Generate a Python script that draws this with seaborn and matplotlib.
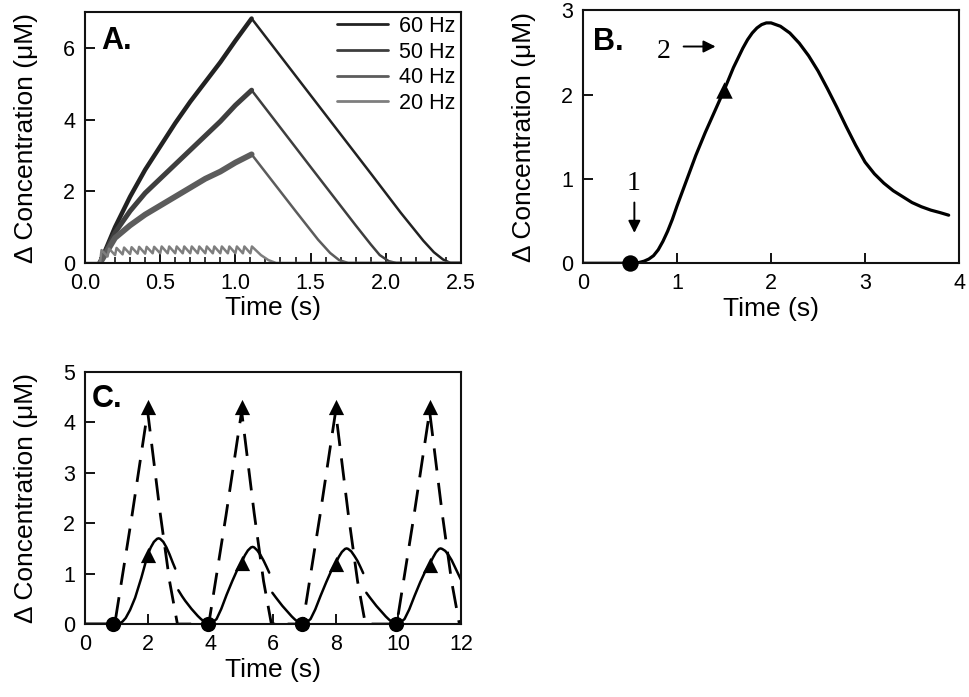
import numpy as np
import pandas as pd
import matplotlib
matplotlib.use('Agg')
import matplotlib.pyplot as plt
from matplotlib.ticker import MultipleLocator, FormatStrFormatter
import seaborn as sns

sns.set_style('ticks')
plt.rcParams['font.family'] = ['Liberation Sans', 'DejaVu Sans']
plt.rcParams['xtick.direction'] = 'in'
plt.rcParams['ytick.direction'] = 'in'
plt.rcParams['text.color'] = 'black'
plt.rcParams['axes.labelcolor'] = 'black'
plt.rcParams['xtick.labelcolor'] = 'black'
plt.rcParams['ytick.labelcolor'] = 'black'

# ---- panel A: stimulation trains ----
freqs = ['60 Hz', '50 Hz', '40 Hz', '20 Hz']
greys = ['#222222', '#3e3e3e', '#5c5c5c', '#7e7e7e']

# rising part (drawn as a ripple band) and falling part of each train
rise_t = [0.10, 0.2, 0.3, 0.4, 0.5, 0.6, 0.7, 0.8, 0.9, 1.0, 1.108]
rise_60 = [0.0, 1.0, 1.85, 2.6, 3.25, 3.9, 4.5, 5.05, 5.6, 6.2, 6.82]
rise_50 = [0.0, 0.85, 1.45, 1.95, 2.35, 2.75, 3.15, 3.55, 3.95, 4.4, 4.82]
rise_40 = [0.0, 0.7, 1.05, 1.35, 1.6, 1.85, 2.1, 2.35, 2.55, 2.8, 3.03]

fall_60_t = [1.108, 1.5, 1.9, 2.1, 2.25, 2.32, 2.38, 2.43, 2.5]
fall_60 = [6.82, 4.68, 2.5, 1.4, 0.62, 0.3, 0.1, 0.0, 0.0]
fall_50_t = [1.108, 1.5, 1.8, 1.9, 1.96, 2.02, 2.07, 2.5]
fall_50 = [4.82, 2.68, 1.05, 0.52, 0.22, 0.05, 0.0, 0.0]
fall_40_t = [1.108, 1.4, 1.55, 1.63, 1.69, 1.75, 1.8, 2.5]
fall_40 = [3.03, 1.45, 0.65, 0.28, 0.08, 0.0, 0.0, 0.0]

# 20 Hz train: individual teeth visible
t_20 = [0.0, 0.10, 0.11, 0.15, 0.16, 0.20, 0.21, 0.25, 0.26, 0.30, 0.31,
        0.35, 0.36, 0.40, 0.41, 0.45, 0.46, 0.50, 0.51, 0.55, 0.56, 0.60,
        0.61, 0.65, 0.66, 0.70, 0.71, 0.75, 0.76, 0.80, 0.81, 0.85, 0.86,
        0.90, 0.91, 0.95, 0.96, 1.00, 1.01, 1.05, 1.06, 1.10, 1.11, 1.17,
        1.22, 1.27, 2.5]
y_20 = [0.0, 0.0, 0.36, 0.18, 0.40, 0.22, 0.42, 0.24, 0.43, 0.25, 0.44,
        0.26, 0.45, 0.26, 0.45, 0.27, 0.45, 0.27, 0.46, 0.27, 0.46, 0.27,
        0.46, 0.27, 0.46, 0.27, 0.46, 0.27, 0.46, 0.27, 0.46, 0.27, 0.46,
        0.27, 0.46, 0.27, 0.46, 0.27, 0.46, 0.27, 0.46, 0.27, 0.46, 0.22,
        0.08, 0.0, 0.0]

# ---- panel B ----
t_B = [0.0, 0.5, 0.55, 0.6, 0.65, 0.7, 0.75, 0.8, 0.85, 0.9, 0.95, 1.0,
       1.1, 1.2, 1.3, 1.4, 1.5, 1.6, 1.7, 1.75, 1.8, 1.85, 1.9, 1.95, 2.0,
       2.1, 2.2, 2.3, 2.4, 2.5, 2.6, 2.7, 2.8, 2.9, 3.0, 3.1, 3.2, 3.3,
       3.4, 3.5, 3.6, 3.7, 3.8, 3.89]
y_B = [0.0, 0.0, 0.0, 0.01, 0.025, 0.05, 0.09, 0.16, 0.26, 0.38, 0.52,
       0.68, 0.98, 1.28, 1.55, 1.8, 2.05, 2.32, 2.55, 2.65, 2.73, 2.79,
       2.83, 2.85, 2.85, 2.81, 2.73, 2.61, 2.46, 2.28, 2.07, 1.85, 1.62,
       1.4, 1.2, 1.06, 0.95, 0.86, 0.79, 0.72, 0.67, 0.63, 0.6, 0.57]
dot_B = (0.5, 0.0)
tri_B = (1.5, 2.05)

# ---- panel C ----
t_dash = [0, 0.95, 1.5, 2.0, 2.4, 2.7, 2.95, 3.95, 4.5, 5.0, 5.4, 5.7, 5.95,
          6.95, 7.5, 8.0, 8.4, 8.7, 8.95, 9.95, 10.5, 11.0, 11.4, 11.7,
          11.95, 12.0]
y_dash = [0, 0, 2.15, 4.22, 2.2, 0.85, 0, 0, 2.15, 4.22, 2.2, 0.85, 0,
          0, 2.15, 4.22, 2.2, 0.85, 0, 0, 2.15, 4.22, 2.2, 0.85, 0, 0]

seg1_t = [0, 0.9, 1.1, 1.2, 1.3, 1.44, 1.6, 1.8, 2.0, 2.1, 2.2, 2.3, 2.35,
          2.4, 2.5, 2.6, 2.7, 2.8, 2.88]
seg1_y = [0, 0, 0.01, 0.05, 0.12, 0.28, 0.52, 0.92, 1.37, 1.52, 1.63, 1.69,
          1.70, 1.69, 1.63, 1.52, 1.38, 1.22, 1.1]
seg2_t = [2.98, 3.1, 3.2, 3.3, 3.4, 3.5, 3.6, 3.7, 3.8, 3.92, 4.05, 4.2,
          4.35, 4.52, 4.7, 4.85, 5.0, 5.1, 5.2, 5.3, 5.35, 5.4, 5.5, 5.6,
          5.7, 5.8, 5.88]
seg2_y = [0.67, 0.55, 0.46, 0.38, 0.3, 0.23, 0.16, 0.1, 0.05, 0.01, 0.02,
          0.1, 0.3, 0.58, 0.85, 1.06, 1.22, 1.36, 1.46, 1.52, 1.53, 1.52,
          1.46, 1.37, 1.26, 1.13, 1.02]
seg3_t = [5.98, 6.1, 6.2, 6.3, 6.4, 6.5, 6.6, 6.7, 6.8, 6.92, 7.05, 7.2,
          7.35, 7.52, 7.7, 7.85, 8.0, 8.1, 8.2, 8.3, 8.35, 8.4, 8.5, 8.6,
          8.7, 8.8, 8.88]
seg3_y = [0.62, 0.52, 0.44, 0.36, 0.29, 0.22, 0.15, 0.09, 0.04, 0.01, 0.02,
          0.1, 0.29, 0.56, 0.83, 1.04, 1.2, 1.33, 1.43, 1.49, 1.5, 1.49,
          1.44, 1.35, 1.25, 1.12, 1.01]
seg4_t = [8.98, 9.1, 9.2, 9.3, 9.4, 9.5, 9.6, 9.7, 9.8, 9.92, 10.05, 10.2,
          10.35, 10.52, 10.7, 10.85, 11.0, 11.1, 11.2, 11.3, 11.35, 11.4,
          11.5, 11.6, 11.7, 11.8, 11.9, 12.0]
seg4_y = [0.62, 0.52, 0.44, 0.36, 0.29, 0.22, 0.15, 0.09, 0.04, 0.01, 0.02,
          0.1, 0.29, 0.56, 0.83, 1.03, 1.18, 1.31, 1.42, 1.49, 1.5, 1.49,
          1.45, 1.37, 1.27, 1.14, 1.01, 0.88]

dots_C_t = [0.9, 3.93, 6.92, 9.92]
tri_solid_t = [2.0, 5.0, 8.0, 11.0]
tri_solid_y = [1.37, 1.22, 1.2, 1.18]
tri_dash_t = [2.0, 5.0, 8.0, 11.0]
tri_dash_y = [4.3, 4.3, 4.3, 4.3]

tick_fs = 15.5
label_fs = 19
ylab = 'Δ Concentration (μM)'

fig = plt.figure(figsize=(9.69, 6.97), dpi=100)
axA = fig.add_axes([0.0877, 0.6227, 0.388, 0.360])
axB = fig.add_axes([0.6017, 0.6223, 0.388, 0.363])
axC = fig.add_axes([0.0877, 0.1047, 0.388, 0.3616])

# panel A
band_lw = {'60 Hz': 3.2, '50 Hz': 3.6, '40 Hz': 4.2}
rises = {'60 Hz': rise_60, '50 Hz': rise_50, '40 Hz': rise_40}
falls = {'60 Hz': (fall_60_t, fall_60), '50 Hz': (fall_50_t, fall_50),
         '40 Hz': (fall_40_t, fall_40)}
for name, col in zip(freqs, greys):
    if name == '20 Hz':
        sns.lineplot(x=t_20, y=y_20, ax=axA, color=col, lw=1.8, label=name,
                     sort=False)
        continue
    sns.lineplot(x=rise_t, y=rises[name], ax=axA, color=col,
                 lw=band_lw[name], label=name)
    sns.lineplot(x=falls[name][0], y=falls[name][1], ax=axA, color=col,
                 lw=1.8)
axA.set_xlim(0, 2.5)
axA.set_ylim(0, 7)
axA.xaxis.set_major_locator(MultipleLocator(0.5))
axA.xaxis.set_minor_locator(MultipleLocator(0.1))
axA.xaxis.set_major_formatter(FormatStrFormatter('%.1f'))
axA.yaxis.set_major_locator(MultipleLocator(2))
leg = axA.legend(loc='upper right', bbox_to_anchor=(0.985, 0.985),
                 frameon=False, fontsize=tick_fs, handlelength=2.4,
                 handletextpad=0.5, labelspacing=0.22, borderpad=0,
                 borderaxespad=0)
for ln in leg.get_lines():
    ln.set_linewidth(2.0)
axA.text(0.044, 0.851, 'A.', transform=axA.transAxes, fontsize=22,
         fontweight='bold')

# panel B
sns.lineplot(x=t_B, y=y_B, ax=axB, color='black', lw=2.3)
sns.scatterplot(x=[dot_B[0]], y=[dot_B[1]], ax=axB, color='black', s=140,
                marker='o', clip_on=False, zorder=5, linewidth=0)
sns.scatterplot(x=[tri_B[0]], y=[tri_B[1]], ax=axB, color='black', s=140,
                marker='^', zorder=5, linewidth=0)
axB.set_xlim(0, 4)
axB.set_ylim(0, 3)
axB.xaxis.set_major_locator(MultipleLocator(1))
axB.yaxis.set_major_locator(MultipleLocator(1))
arrow_kw = dict(arrowstyle='-|>', color='black', lw=1.4, mutation_scale=18,
                shrinkA=0, shrinkB=0)
axB.annotate('', xy=(0.546, 0.36), xytext=(0.546, 0.72),
             arrowprops=arrow_kw)
axB.text(0.535, 0.94, '1', ha='center', va='center', fontsize=20,
         family='Liberation Serif')
axB.text(0.855, 2.51, '2', ha='center', va='center', fontsize=20,
         family='Liberation Serif')
axB.annotate('', xy=(1.41, 2.57), xytext=(1.07, 2.57),
             arrowprops=arrow_kw)
axB.text(0.027, 0.843, 'B.', transform=axB.transAxes, fontsize=22,
         fontweight='bold')

# panel C
sns.lineplot(x=t_dash, y=y_dash, ax=axC, color='black', lw=2.0,
             linestyle=(0, (8, 4.5)), sort=False)
seg_df = pd.concat([
    pd.DataFrame({'t': seg1_t, 'y': seg1_y, 'seg': 1}),
    pd.DataFrame({'t': seg2_t, 'y': seg2_y, 'seg': 2}),
    pd.DataFrame({'t': seg3_t, 'y': seg3_y, 'seg': 3}),
    pd.DataFrame({'t': seg4_t, 'y': seg4_y, 'seg': 4}),
])
sns.lineplot(data=seg_df, x='t', y='y', units='seg', estimator=None,
             ax=axC, color='black', lw=1.8, sort=False)
sns.scatterplot(x=dots_C_t, y=[0] * len(dots_C_t), ax=axC, color='black',
                s=120, marker='o', clip_on=False, zorder=5, linewidth=0)
sns.scatterplot(x=tri_solid_t, y=tri_solid_y, ax=axC, color='black', s=120,
                marker='^', zorder=5, linewidth=0)
sns.scatterplot(x=tri_dash_t, y=tri_dash_y, ax=axC, color='black', s=120,
                marker='^', zorder=5, linewidth=0)
axC.set_xlim(0, 12)
axC.set_ylim(0, 5)
axC.xaxis.set_major_locator(MultipleLocator(2))
axC.yaxis.set_major_locator(MultipleLocator(1))
axC.text(0.018, 0.862, 'C.', transform=axC.transAxes, fontsize=22,
         fontweight='bold')

for ax in (axA, axB, axC):
    ax.set_xlabel('Time (s)', fontsize=label_fs, labelpad=2)
    ax.set_ylabel(ylab, fontsize=label_fs, labelpad=18)
    ax.tick_params(axis='both', which='major', labelsize=tick_fs, length=7,
                   width=1.3, pad=7, color='black')
    ax.tick_params(axis='x', which='minor', length=4.5, width=1.3)
    for sp in ax.spines.values():
        sp.set_linewidth(1.5)
        sp.set_color('#111111')
    ax.set_zorder(1)

fig.savefig('out.png', dpi=100)
